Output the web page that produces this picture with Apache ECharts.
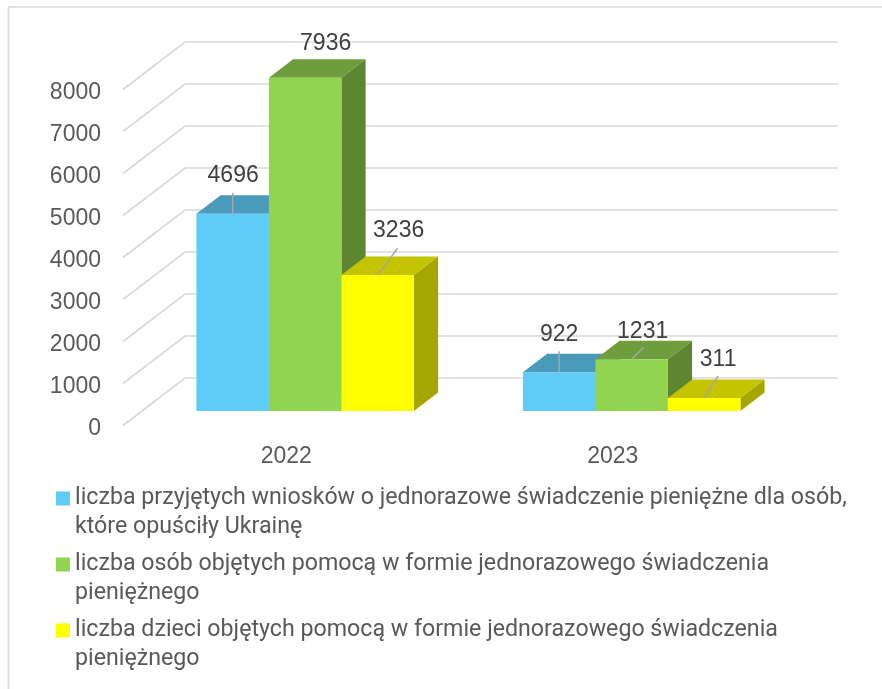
<!DOCTYPE html>
<html><head><meta charset="utf-8">
<style>html,body{margin:0;padding:0;background:#fff}#c{width:882px;height:689px}</style>
<script src="https://cdn.jsdelivr.net/npm/echarts@6/dist/echarts.min.js"></script>
</head><body><div id="c"></div>
<script>
const categories = ['2022', '2023'];
const yTicks = [0, 1000, 2000, 3000, 4000, 5000, 6000, 7000, 8000];
const applications = [4696, 922];
const persons = [7936, 1231];
const children = [3236, 311];
const seriesNames = [
  'liczba przyjętych wniosków o jednorazowe świadczenie pieniężne dla osób,\nktóre opuściły Ukrainę',
  'liczba osób objętych pomocą w formie jednorazowego świadczenia\npieniężnego',
  'liczba dzieci objętych pomocą w formie jednorazowego świadczenia\npieniężnego'
];

const DEPTH = [62, -47.5], BAR_T = 0.305, BAR_DEPTH = 0.39, BAR_RATIO = 72.5 / 326.5;
const FONT = '"Liberation Sans", Arial, sans-serif';
const palettes = [
  { front: '#5FCBF7', top: '#4A9ABA', side: '#3F87A5' },
  { front: '#92D450', top: '#6F9C3C', side: '#5E8531' },
  { front: '#FFFF00', top: '#C4C400', side: '#A6A600' }
];
// label centre and leader end relative to the top-centre of each bar's front face
const labelLayout = [
  [{ l: [0.5, -38], e: [0, -21] }, { l: [0, -38], e: [0, -21] }],
  [{ l: [20.5, -34], e: null }, { l: [11, -28], e: [12, -12] }],
  [{ l: [21, -44], e: [20, -27] }, { l: [14, -38], e: [14, -22] }]
];

function poly(points, fill) {
  return { type: 'polygon', shape: { points }, style: { fill }, silent: true };
}

function wallItem(params, api) {
  const cs = params.coordSys;
  const y = api.coord([0, api.value(1)])[1];
  const pts = [[cs.x, y], [cs.x + DEPTH[0], y + DEPTH[1]], [cs.x + cs.width + DEPTH[0], y + DEPTH[1]]];
  return { type: 'polyline', shape: { points: pts }, style: { stroke: '#d9d9d9', lineWidth: 1.6, fill: 'none' }, silent: true };
}

function barRenderer(s) {
  return function (params, api) {
    const i = api.value(0), v = api.value(1);
    const top0 = api.coord([i, v]), base0 = api.coord([i, 0]);
    const catW = api.size([1, 0])[0], w = catW * BAR_RATIO;
    const ox = DEPTH[0] * BAR_T, oy = DEPTH[1] * BAR_T;
    const dx = DEPTH[0] * BAR_DEPTH, dy = DEPTH[1] * BAR_DEPTH;
    const x0 = top0[0] + ox + (s - 1.5) * w, x1 = x0 + w;
    const yT = top0[1] + oy, yB = base0[1] + oy;
    const p = palettes[s], cx = (x0 + x1) / 2, L = labelLayout[s][params.dataIndex];
    const children = [
      poly([[x1, yT], [x1 + dx, yT + dy], [x1 + dx, yB + dy], [x1, yB]], p.side),
      poly([[x0, yT], [x0 + dx, yT + dy], [x1 + dx, yT + dy], [x1, yT]], p.top),
      poly([[x0, yT], [x1, yT], [x1, yB], [x0, yB]], p.front)
    ];
    if (L.e) children.push({ type: 'line', shape: { x1: cx, y1: yT, x2: cx + L.e[0], y2: yT + L.e[1] },
      style: { stroke: '#a6a6a6', lineWidth: 1.5 }, silent: true });
    children.push({ type: 'text', x: cx + L.l[0], y: yT + L.l[1],
      style: { text: String(v), fill: '#404040', font: '23px ' + FONT, align: 'center', verticalAlign: 'middle' }, silent: true });
    return { type: 'group', children };
  };
}

const legendIcon = 'path://M0 0H14V14H0Z M0 43L0 43Z';
const chart = echarts.init(document.getElementById('c'), null, { renderer: 'canvas' });
const values = [applications, persons, children];
chart.setOption({
  animation: false,
  backgroundColor: '#ffffff',
  graphic: [{ type: 'polyline', silent: true, shape: { points: [[8.5, 689], [8.5, 7], [882, 7]] },
    style: { stroke: '#d9d9d9', lineWidth: 1.6, fill: 'none' } }],
  grid: { left: 123, top: 89.5, width: 653, height: 336 },
  legend: {
    left: 56, top: 484, orient: 'vertical', padding: 0, itemGap: 8,
    itemWidth: 14, itemHeight: 43, icon: legendIcon, selectedMode: false,
    data: seriesNames,
    textStyle: { fontFamily: 'Roboto', fontSize: 23.2, color: '#595959', lineHeight: 29 }
  },
  xAxis: {
    type: 'category', data: categories,
    axisLine: { show: false }, axisTick: { show: false }, splitLine: { show: false },
    axisLabel: { margin: 20, fontFamily: FONT, fontSize: 23, color: '#595959' }
  },
  yAxis: {
    type: 'value', min: 0, max: 8000, interval: 1000,
    axisLine: { show: false }, axisTick: { show: false }, splitLine: { show: false },
    axisLabel: { margin: 22, fontFamily: FONT, fontSize: 23, color: '#595959', formatter: v => String(v), verticalAlign: 'top', lineHeight: 6 }
  },
  series: [
    { type: 'custom', name: 'wall', renderItem: wallItem, silent: true, clip: false,
      data: yTicks.map(t => [0, t]), encode: { x: 0, y: 1 }, z: 1 }
  ].concat(values.map((arr, s) => ({
    type: 'custom', name: seriesNames[s], renderItem: barRenderer(s), clip: false, silent: true,
    itemStyle: { color: palettes[s].front }, z: 2 + s,
    data: arr.map((v, i) => [i, v]), encode: { x: 0, y: 1 }
  })))
});
</script></body></html>
